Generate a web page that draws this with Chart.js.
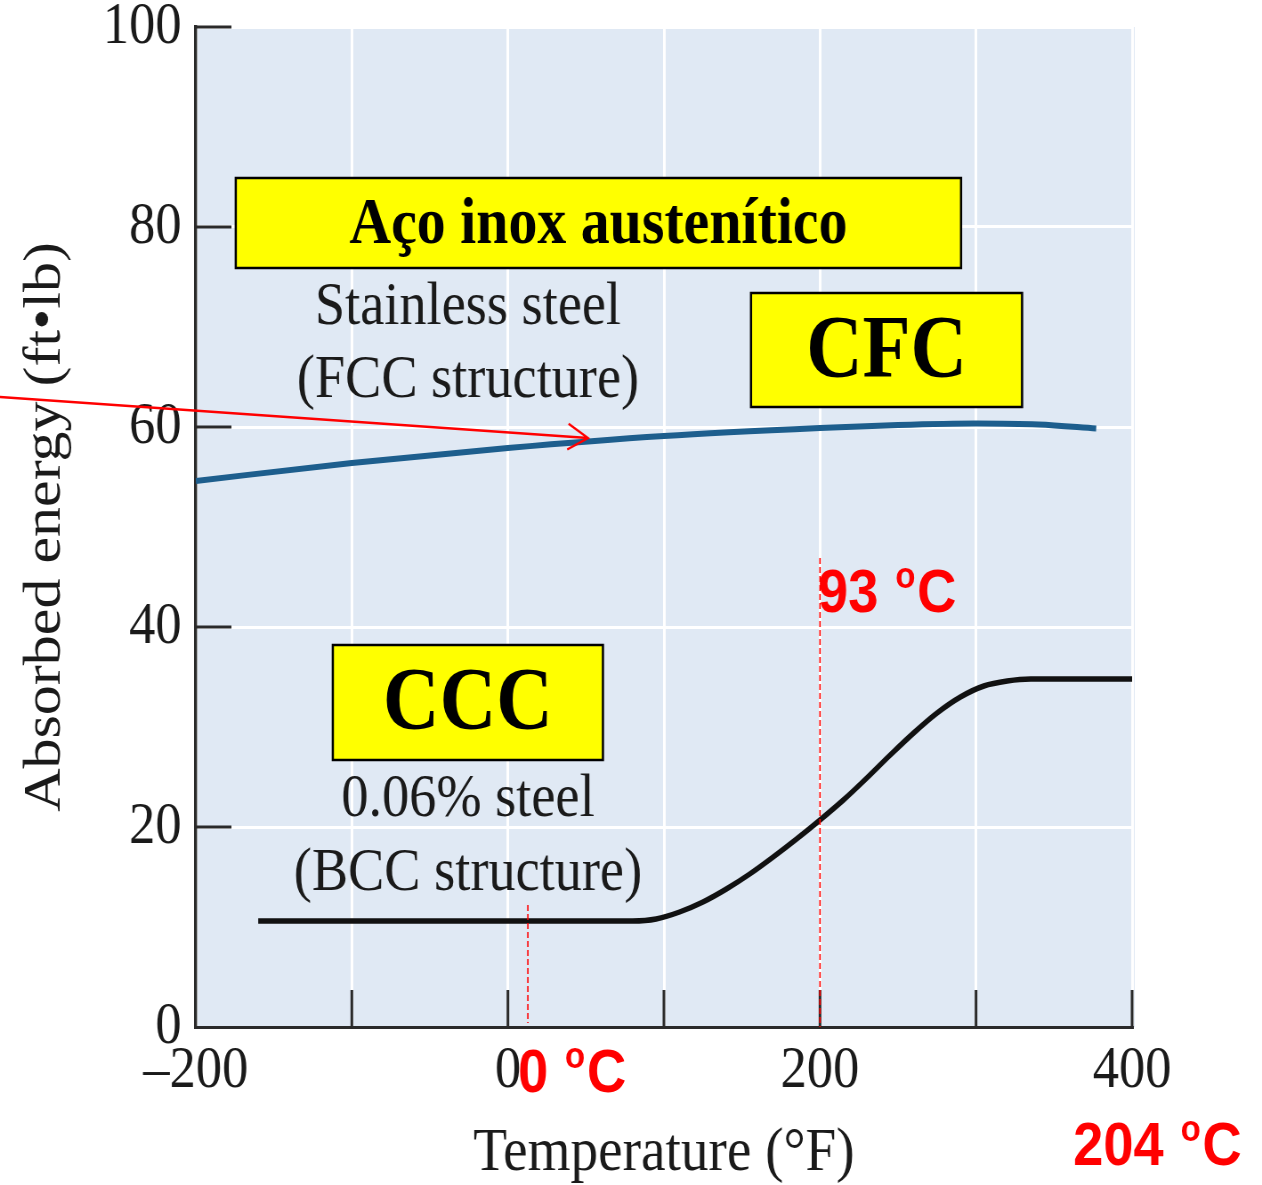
<!DOCTYPE html>
<html>
<head>
<meta charset="utf-8">
<script src="https://cdn.jsdelivr.net/npm/chart.js@4.4.1/dist/chart.umd.min.js"></script>
<style>
  html, body { margin: 0; padding: 0; background: #fff; overflow: hidden; }
  #wrap { width: 1262px; height: 1185px; overflow: hidden; }
  #chart { transform-origin: 0 0; }
</style>
</head>
<body>
<div id="wrap"><canvas id="chart"></canvas></div>
<script>
// the scanned figure is narrower than it is tall, so draw wide and squeeze
const SQUEEZE = 0.89
const W = Math.round(1262 / SQUEEZE)
const H = 1185

const X_TICKS = [-200, -100, 0, 100, 200, 300, 400]
const X_LABELS = ['\u2013200', '', '0', '', '200', '', '400']
const Y_TICKS = [0, 20, 40, 60, 80, 100]

// stainless steel, FCC structure
const fccTemp = [-200, -100, 0, 100, 200, 250, 300, 340, 377]
const fccEnergy = [54.6, 56.4, 57.9, 59.1, 59.9, 60.2, 60.35, 60.25, 59.85]

// 0.06% steel, BCC structure
const bccTemp = [-160, 80, 95, 110, 125, 140, 155, 170, 185, 200, 215, 230, 245, 260, 275, 290, 305, 320, 335, 400]
const bccEnergy = [10.6, 10.6, 10.8, 11.5, 12.5, 13.8, 15.3, 17.0, 18.8, 20.7, 22.7, 24.9, 27.2, 29.4, 31.4, 33.0, 34.1, 34.6, 34.8, 34.8]

// notes, placed in data units (°F, ft·lb)
const yellowBoxes = [
  { text: 'Aço inox austenítico', x0: -174.4, x1: 290.4, y0: 75.9, y1: 84.9, size: 65 },
  { text: 'CFC', x0: 155.8, x1: 329.5, y0: 62.0, y1: 73.4, size: 88 },
  { text: 'CCC', x0: -112.2, x1: 60.9, y0: 26.7, y1: 38.2, size: 88 },
]
const notes = [
  { text: 'Stainless steel', x: -25.6, y: 71.9 },
  { text: '(FCC structure)', x: -25.6, y: 64.6 },
  { text: '0.06% steel', x: -25.6, y: 22.7 },
  { text: '(BCC structure)', x: -25.6, y: 15.3 },
]
const celsiusMarks = [
  { head: '93', x: 198.7, y: 41.5 },
  { head: '0', x: 6.4, y: -6.5 },
  { head: '204', x: 362.2, y: -13.8 },
]
const guideLines = [
  { x: 200, from: 0, to: 46.9 },
  { x: 12.8, from: 0.4, to: 12.2 },
]
const arrow = { from: [-325.6, 63.0], to: [51.3, 58.9] }

const PLOT_BG = '#e0e9f4'
const AXIS_COLOR = '#2a2a2a'
const TEXT_COLOR = '#1a1a1a'
const FCC_COLOR = '#1d5e8d'
const RED = '#ff0000'
const SERIF = '"Liberation Serif", "Times New Roman", serif'
const SANS = '"Liberation Sans", Arial, sans-serif'

const canvas = document.getElementById('chart')
canvas.width = W
canvas.height = H
canvas.style.transform = `scaleX(${SQUEEZE})`

function drawCelsius(ctx, head, x, y) {
  ctx.font = `bold 61px ${SANS}`
  ctx.fillText(head, x, y)
  let cx = x + ctx.measureText(head).width + 19
  ctx.font = `bold 37px ${SANS}`
  ctx.fillText('o', cx, y - 61 * 0.716 + 37 * 0.52)
  cx += ctx.measureText('o').width + 2
  ctx.font = `bold 61px ${SANS}`
  ctx.fillText('C', cx, y)
}

const decorate = {
  id: 'decorate',
  beforeDraw(chart) {
    const { ctx, chartArea: a } = chart
    ctx.save()
    ctx.fillStyle = PLOT_BG
    ctx.fillRect(a.left, a.top, a.right - a.left + 3, a.bottom - a.top)
    ctx.restore()
  },
  afterDatasetsDraw(chart) {
    const { ctx, chartArea: a, scales: { x, y } } = chart
    const px = v => x.getPixelForValue(v)
    const py = v => y.getPixelForValue(v)
    ctx.save()

    // tick marks point into the plot
    ctx.strokeStyle = AXIS_COLOR
    ctx.lineWidth = 3
    ctx.beginPath()
    Y_TICKS.slice(1).forEach(v => { ctx.moveTo(a.left, py(v)); ctx.lineTo(a.left + 40, py(v)) })
    X_TICKS.slice(1).forEach(v => { ctx.moveTo(px(v), a.bottom); ctx.lineTo(px(v), a.bottom - 37) })
    ctx.stroke()

    // yellow labels
    yellowBoxes.forEach(b => {
      const l = px(b.x0), r = px(b.x1), t = py(b.y1), btm = py(b.y0)
      ctx.fillStyle = '#ffff00'
      ctx.fillRect(l, t, r - l, btm - t)
      ctx.strokeStyle = '#000'
      ctx.lineWidth = 2.5
      ctx.strokeRect(l, t, r - l, btm - t)
      ctx.fillStyle = '#000'
      ctx.font = `bold ${b.size}px ${SERIF}`
      ctx.textAlign = 'center'
      ctx.textBaseline = 'middle'
      ctx.fillText(b.text, (l + r) / 2, (t + btm) / 2 + 3)
    })

    // curve names
    ctx.fillStyle = TEXT_COLOR
    ctx.font = `61px ${SERIF}`
    ctx.textAlign = 'center'
    ctx.textBaseline = 'middle'
    notes.forEach(n => ctx.fillText(n.text, px(n.x), py(n.y)))

    // red guides
    ctx.strokeStyle = RED
    ctx.lineWidth = 1.6
    ctx.setLineDash([6, 3])
    guideLines.forEach(g => {
      ctx.beginPath()
      ctx.moveTo(px(g.x), py(g.to))
      ctx.lineTo(px(g.x), py(g.from))
      ctx.stroke()
    })
    ctx.setLineDash([])

    // arrow to the FCC curve
    const x0 = px(arrow.from[0]), y0 = py(arrow.from[1])
    const x1 = px(arrow.to[0]), y1 = py(arrow.to[1])
    const ang = Math.atan2(y1 - y0, x1 - x0)
    ctx.lineWidth = 2.4
    ctx.beginPath()
    ctx.moveTo(x0, y0)
    ctx.lineTo(x1, y1)
    ctx.moveTo(x1 - 26 * Math.cos(ang - 0.52), y1 - 26 * Math.sin(ang - 0.52))
    ctx.lineTo(x1, y1)
    ctx.lineTo(x1 - 26 * Math.cos(ang + 0.52), y1 - 26 * Math.sin(ang + 0.52))
    ctx.stroke()

    // celsius equivalents
    ctx.fillStyle = RED
    ctx.textAlign = 'left'
    ctx.textBaseline = 'alphabetic'
    celsiusMarks.forEach(m => drawCelsius(ctx, m.head, px(m.x), py(m.y)))

    ctx.restore()
  },
}

const toPoints = (xs, ys) => xs.map((v, i) => ({ x: v, y: ys[i] }))

new Chart(canvas, {
  type: 'line',
  data: {
    datasets: [
      {
        label: 'Stainless steel (FCC structure)',
        data: toPoints(fccTemp, fccEnergy),
        borderColor: FCC_COLOR,
        borderWidth: 6,
        pointRadius: 0,
        cubicInterpolationMode: 'monotone',
        fill: false,
      },
      {
        label: '0.06% steel (BCC structure)',
        data: toPoints(bccTemp, bccEnergy),
        borderColor: '#111',
        borderWidth: 5.5,
        pointRadius: 0,
        cubicInterpolationMode: 'monotone',
        fill: false,
      },
    ],
  },
  options: {
    responsive: false,
    animation: false,
    events: [],
    layout: { padding: { top: 27, right: W - 1272, bottom: 0, left: 0 } },
    plugins: { legend: { display: false }, tooltip: { enabled: false } },
    scales: {
      x: {
        type: 'linear',
        min: -200,
        max: 400,
        afterBuildTicks: s => { s.ticks = X_TICKS.map(value => ({ value })) },
        afterFit: s => { s.height = H - 1027 },
        ticks: {
          autoSkip: false,
          maxRotation: 0,
          padding: 18,
          color: TEXT_COLOR,
          font: { family: SERIF, size: 59, lineHeight: 0.9 },
          callback: (v, i) => X_LABELS[i],
        },
        grid: { color: '#ffffff', lineWidth: 3, drawTicks: false },
        border: { display: true, color: AXIS_COLOR, width: 3 },
        title: {
          display: true,
          text: 'Temperature (°F)',
          color: TEXT_COLOR,
          font: { family: SERIF, size: 62, lineHeight: 1 },
          padding: { top: 0, bottom: 0 },
        },
      },
      y: {
        min: 0,
        max: 100,
        afterBuildTicks: s => { s.ticks = Y_TICKS.map(value => ({ value })) },
        afterFit: s => { s.width = 220; s.paddingTop = 0; s.paddingBottom = 0 },
        ticks: {
          padding: 16,
          color: TEXT_COLOR,
          font: { family: SERIF, size: 59, lineHeight: 0.9 },
        },
        grid: { color: '#ffffff', lineWidth: 3, drawTicks: false },
        border: { display: true, color: AXIS_COLOR, width: 3.4 },
        title: {
          display: true,
          text: 'Absorbed energy (ft•lb)',
          color: TEXT_COLOR,
          font: { family: SERIF, size: 60, lineHeight: 1 },
          padding: { top: 21, bottom: 0 },
        },
      },
    },
  },
  plugins: [decorate],
})
</script>
</body>
</html>
